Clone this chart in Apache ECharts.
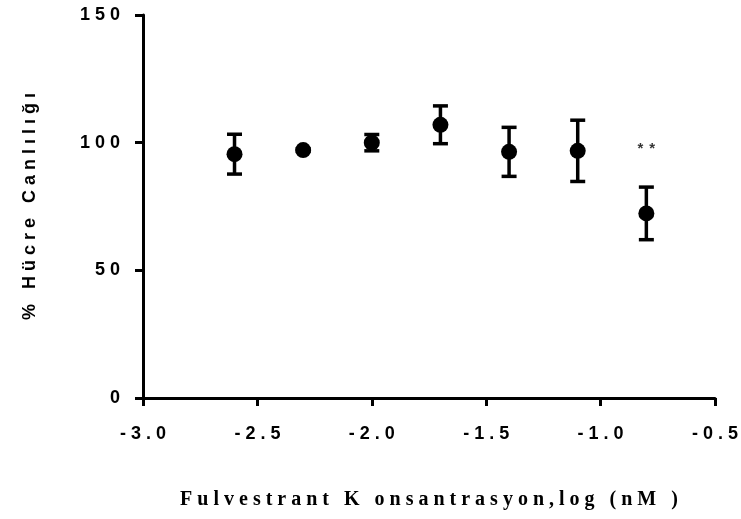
<!DOCTYPE html>
<html>
<head>
<meta charset="utf-8">
<script src="https://cdn.jsdelivr.net/npm/echarts@6/dist/echarts.min.js"></script>
<style>
  html, body { margin: 0; padding: 0; background: #fff; }
  #chart { width: 741px; height: 519px; }
</style>
</head>
<body>
<div id="chart"></div>
<script>
// log concentration (nM) and mean viability with error
const logConc = [-2.6, -2.3, -2.0, -1.7, -1.4, -1.1, -0.8];
const viability = [95.5, 97.1, 100.0, 107.0, 96.4, 96.8, 72.3];
const viabilityErr = [7.8, 0.5, 3.2, 7.4, 9.6, 12.0, 10.3];

// significance marks
const sigX = [-0.8];
const sigY = [97.5];
const sigText = ['**'];

const xTitle = 'Fulvestrant K onsantrasyon,log (nM )';
const yTitle = '% Hücre Canlılığı';

// wide tracking, as in the printed figure
function track(s, gap) {
  return s.split('').join(gap);
}

const chart = echarts.init(document.getElementById('chart'));

const points = logConc.map((x, i) => [x, viability[i]]);
const bars = logConc.map((x, i) => [x, viability[i] - viabilityErr[i], viability[i] + viabilityErr[i]]);
const sig = sigX.map((x, i) => ({ value: [x, sigY[i]], label: sigText[i] }));

const axisFont = { color: '#000', fontFamily: 'Liberation Sans, Arial, sans-serif', fontWeight: 'bold', fontSize: 18 };

chart.setOption({
  animation: false,
  backgroundColor: '#fff',
  grid: { left: 143, right: 24, top: 15, bottom: 121, containLabel: false },
  xAxis: {
    type: 'value',
    min: -3, max: -0.5, interval: 0.5,
    axisLine: { onZero: false, lineStyle: { color: '#000', width: 3 } },
    axisTick: { show: true, inside: false, length: 8, lineStyle: { color: '#000', width: 3 } },
    splitLine: { show: false },
    axisLabel: Object.assign({ margin: 27, formatter: v => track(v.toFixed(1), ' ') }, axisFont),
    name: track(xTitle, ' '),
    nameLocation: 'middle',
    nameGap: 92,
    nameTextStyle: { color: '#000', fontFamily: 'Liberation Serif, Times New Roman, serif', fontWeight: 'bold', fontSize: 20, verticalAlign: 'top' }
  },
  yAxis: {
    type: 'value',
    min: 0, max: 150, interval: 50,
    axisLine: { onZero: false, lineStyle: { color: '#000', width: 3 } },
    axisTick: { show: true, inside: false, length: 8, lineStyle: { color: '#000', width: 3 } },
    splitLine: { show: false },
    axisLabel: Object.assign({ margin: 23, formatter: v => track(String(v), ' ') }, axisFont),
    name: track(yTitle, ' '),
    nameLocation: 'middle',
    nameGap: 104,
    nameTextStyle: { color: '#000', fontFamily: 'Liberation Sans, Arial, sans-serif', fontWeight: 'bold', fontSize: 18 }
  },
  series: [
    {
      type: 'custom',
      name: 'error',
      data: bars,
      z: 1,
      renderItem: function (params, api) {
        const x = api.value(0);
        const lo = api.coord([x, api.value(1)]);
        const hi = api.coord([x, api.value(2)]);
        const hw = 7.5;
        const style = { stroke: '#000', lineWidth: 3.5 };
        return {
          type: 'group',
          children: [
            { type: 'line', shape: { x1: lo[0], y1: lo[1], x2: hi[0], y2: hi[1] }, style: style },
            { type: 'line', shape: { x1: lo[0] - hw, y1: lo[1], x2: lo[0] + hw, y2: lo[1] }, style: style },
            { type: 'line', shape: { x1: hi[0] - hw, y1: hi[1], x2: hi[0] + hw, y2: hi[1] }, style: style }
          ]
        };
      }
    },
    {
      type: 'scatter',
      name: 'viability',
      data: points,
      symbol: 'circle',
      symbolSize: 16,
      z: 3,
      itemStyle: { color: '#000', opacity: 1 }
    },
    {
      type: 'scatter',
      name: 'significance',
      data: sig,
      symbolSize: 0,
      z: 4,
      label: {
        show: true,
        position: 'inside',
        formatter: p => track(p.data.label, '\u2009\u2009'),
        color: '#000',
        fontFamily: 'Liberation Sans, Arial, sans-serif',
        fontWeight: 'bold',
        fontSize: 15
      }
    }
  ]
});
</script>
</body>
</html>
